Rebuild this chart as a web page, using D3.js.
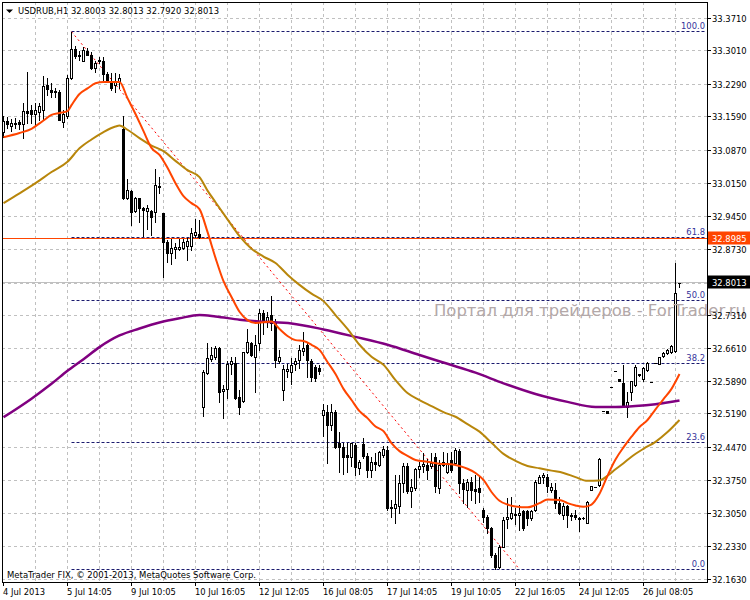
<!DOCTYPE html>
<html><head><meta charset="utf-8">
<script src="https://cdn.jsdelivr.net/npm/d3@7"></script>
<style>body{margin:0;background:#fff}svg{display:block}text{font-family:"DejaVu Sans",sans-serif}</style>
</head><body><svg id="c" width="750" height="600"></svg>
<script>
// ---------------- DATA ----------------
const symbolTitle = "USDRUB,H1";
const titleQuote = ["32.8003","32.8013","32.7920","32.8013"];

const opens = [33.126,33.150,33.139,33.146,33.147,33.143,33.171,33.174,33.164,33.170,
33.174,33.227,33.216,33.214,33.213,33.148,33.161,33.242,33.305,33.293,
33.280,33.301,33.293,33.263,33.278,33.279,33.250,33.236,33.227,33.234,
33.133,32.983,33.000,32.956,32.983,32.963,32.955,32.956,32.953,33.010,
32.951,32.890,32.866,32.875,32.874,32.877,32.881,32.881,32.904,32.906,
32.533,32.608,32.637,32.642,32.660,32.568,32.572,32.627,32.628,32.555,
32.548,32.652,32.672,32.642,32.672,32.737,32.718,32.732,32.714,32.632,
32.570,32.612,32.610,32.627,32.635,32.655,32.668,32.634,32.621,32.619,
32.517,32.524,32.495,32.524,32.456,32.447,32.431,32.427,32.452,32.403,
32.454,32.429,32.398,32.416,32.409,32.431,32.441,32.319,32.316,32.321,
32.370,32.407,32.354,32.359,32.400,32.406,32.409,32.407,32.427,32.359,
32.409,32.395,32.420,32.413,32.440,32.370,32.355,32.373,32.357,32.359,
32.312,32.298,32.273,32.215,32.190,32.233,32.292,32.294,32.301,32.301,
32.311,32.309,32.294,32.312,32.371,32.383,32.384,32.355,32.355,32.327,
32.301,32.321,32.301,32.301,32.294,32.295,32.285,32.355,32.361,32.366,
32.525,32.526,32.578,32.612,32.594,32.585,32.535,32.566,32.581,32.603,
32.594,32.614,32.587,32.628,32.627,32.644,32.650,32.653,32.655,32.8003];

const highs = [33.161,33.159,33.154,33.156,33.152,33.188,33.256,33.184,33.188,33.188,
33.247,33.242,33.231,33.220,33.217,33.174,33.249,33.342,33.312,33.301,
33.310,33.308,33.298,33.279,33.288,33.288,33.256,33.253,33.253,33.250,
33.161,33.025,33.002,32.987,32.985,32.965,32.969,32.958,33.046,33.030,
32.952,32.894,32.895,32.888,32.895,32.895,32.897,32.919,32.938,32.937,
32.614,32.672,32.664,32.665,32.664,32.581,32.632,32.642,32.642,32.570,
32.653,32.703,32.673,32.689,32.744,32.743,32.739,32.772,32.723,32.657,
32.625,32.627,32.639,32.639,32.668,32.696,32.672,32.637,32.625,32.625,
32.541,32.538,32.541,32.528,32.481,32.456,32.456,32.457,32.456,32.420,
32.467,32.434,32.426,32.434,32.440,32.449,32.449,32.334,32.388,32.388,
32.413,32.413,32.380,32.402,32.416,32.434,32.421,32.434,32.434,32.420,
32.438,32.434,32.438,32.445,32.443,32.380,32.380,32.384,32.388,32.386,
32.316,32.301,32.276,32.219,32.237,32.298,32.337,32.341,32.316,32.323,
32.312,32.312,32.312,32.377,32.388,32.391,32.390,32.370,32.370,32.341,
32.327,32.323,32.305,32.312,32.298,32.297,32.332,32.363,32.361,32.424,
32.525,32.526,32.578,32.612,32.595,32.625,32.566,32.591,32.625,32.605,
32.621,32.630,32.587,32.628,32.642,32.653,32.658,32.668,32.844,32.8013];

const lows = [33.115,33.134,33.128,33.134,33.133,33.113,33.145,33.145,33.141,33.152,
33.152,33.206,33.202,33.202,33.151,33.138,33.156,33.240,33.285,33.281,
33.278,33.292,33.262,33.256,33.274,33.238,33.234,33.217,33.213,33.220,
32.982,32.981,32.926,32.954,32.933,32.903,32.917,32.904,32.933,32.994,
32.815,32.847,32.842,32.854,32.872,32.874,32.850,32.872,32.901,32.897,
32.515,32.606,32.632,32.637,32.545,32.510,32.553,32.606,32.552,32.519,
32.545,32.651,32.644,32.566,32.657,32.692,32.707,32.700,32.620,32.628,
32.549,32.599,32.584,32.614,32.617,32.646,32.599,32.589,32.589,32.606,
32.472,32.413,32.485,32.445,32.393,32.390,32.395,32.406,32.388,32.390,
32.424,32.384,32.384,32.398,32.406,32.427,32.312,32.298,32.284,32.305,
32.352,32.349,32.319,32.355,32.384,32.395,32.380,32.402,32.352,32.348,
32.406,32.391,32.395,32.409,32.348,32.327,32.319,32.334,32.327,32.330,
32.287,32.262,32.212,32.1845,32.187,32.232,32.273,32.292,32.282,32.269,
32.269,32.280,32.291,32.311,32.370,32.370,32.352,32.352,32.316,32.304,
32.292,32.275,32.291,32.292,32.266,32.293,32.284,32.355,32.361,32.364,
32.525,32.522,32.578,32.612,32.590,32.534,32.513,32.549,32.579,32.601,
32.589,32.612,32.587,32.628,32.627,32.642,32.648,32.650,32.653,32.7920];

const closes = [33.150,33.143,33.146,33.143,33.143,33.171,33.167,33.164,33.174,33.183,
33.225,33.218,33.213,33.213,33.152,33.164,33.243,33.305,33.290,33.290,
33.303,33.293,33.263,33.274,33.281,33.250,33.236,33.220,33.234,33.243,
32.983,33.001,32.953,32.985,32.962,32.958,32.962,32.944,33.012,33.008,
32.889,32.866,32.876,32.878,32.879,32.890,32.892,32.908,32.910,32.899,
32.610,32.639,32.645,32.660,32.566,32.572,32.627,32.632,32.553,32.535,
32.652,32.674,32.645,32.668,32.736,32.718,32.728,32.714,32.635,32.642,
32.615,32.615,32.625,32.634,32.657,32.660,32.635,32.598,32.596,32.612,
32.528,32.495,32.523,32.447,32.447,32.427,32.427,32.456,32.405,32.416,
32.429,32.398,32.416,32.411,32.438,32.443,32.316,32.316,32.325,32.370,
32.407,32.354,32.361,32.400,32.407,32.411,32.398,32.413,32.363,32.409,
32.416,32.414,32.398,32.441,32.371,32.357,32.373,32.355,32.353,32.352,
32.298,32.273,32.215,32.190,32.233,32.291,32.298,32.305,32.304,32.305,
32.273,32.294,32.311,32.373,32.383,32.388,32.364,32.361,32.327,32.305,
32.321,32.301,32.299,32.298,32.293,32.294,32.329,32.363,32.361,32.421,
32.525,32.522,32.578,32.612,32.591,32.535,32.545,32.589,32.621,32.605,
32.617,32.628,32.587,32.628,32.642,32.651,32.657,32.666,32.780,32.8013];

// moving averages at these bar positions
const maFastBars = [0,4,7,10,12,14,16,17,19,21,23,25,29,31,33,35,37,39,41,43,45,47,49,51,53,55,57,59,61,63,67,69,71,73,75,77,79,81,83,85,87,89,91,93,95,97,99,101,103,106,109,112,114,116,118,120,122,124,126,128,131,134,136,139,141,143,145,147,149,151,153,155,157,159,161,163,165,167,169];
const maFast = [33.115,33.124,33.133,33.151,33.163,33.167,33.171,33.184,33.208,33.220,33.231,33.234,33.234,33.199,33.165,33.128,33.092,33.077,33.049,33.016,32.988,32.973,32.960,32.911,32.855,32.805,32.771,32.739,32.721,32.715,32.718,32.702,32.687,32.678,32.676,32.668,32.657,32.631,32.605,32.573,32.549,32.525,32.510,32.492,32.482,32.456,32.439,32.429,32.420,32.416,32.412,32.411,32.407,32.401,32.392,32.377,32.351,32.332,32.324,32.320,32.318,32.327,32.335,32.334,32.327,32.322,32.319,32.324,32.347,32.386,32.421,32.447,32.470,32.491,32.506,32.529,32.551,32.573,32.605];

const maMidBars = [0,4,8,12,16,19,22,25,28,29,31,34,37,40,43,46,49,51,53,56,59,62,65,68,71,74,77,80,83,86,89,92,95,98,101,104,107,110,113,116,119,122,125,128,131,134,137,140,143,146,149,151,153,155,157,160,163,166,169];
const maMid = [32.973,32.994,33.016,33.040,33.062,33.091,33.110,33.126,33.138,33.140,33.131,33.113,33.097,33.085,33.064,33.044,33.029,33.000,32.975,32.938,32.902,32.875,32.858,32.844,32.819,32.797,32.778,32.762,32.732,32.702,32.668,32.642,32.625,32.592,32.564,32.549,32.536,32.523,32.513,32.497,32.481,32.457,32.433,32.418,32.407,32.402,32.397,32.392,32.383,32.375,32.376,32.386,32.400,32.413,32.427,32.444,32.459,32.480,32.506];

const maSlowBars = [0,7,12,16,20,24,29,34,39,44,49,53,59,64,72,80,88,96,104,111,118,125,133,141,148,153,158,163,169];
const maSlow = [32.512,32.552,32.584,32.612,32.637,32.663,32.688,32.703,32.716,32.725,32.732,32.729,32.722,32.718,32.714,32.701,32.685,32.668,32.646,32.627,32.608,32.585,32.562,32.545,32.534,32.534,32.536,32.540,32.548];

// Fibonacci retracement
const fibStartBar = 17, fibEndBar = 129;
const fibHigh = 33.3421, fibLow = 32.1845;
const fibLevels = [0, 23.6, 38.2, 50.0, 61.8, 100.0];

// horizontal lines
const redLevel = 32.8985;
const bidPrice = 32.8013;

// axes
const priceTicks = [33.3710,33.3010,33.2290,33.1590,33.0870,33.0150,32.9450,32.8730,32.8010,32.7310,32.6610,32.5890,32.5190,32.4470,32.3750,32.3050,32.2330,32.1630];
const timeTickBars = [0,16,32,48,64,80,96,112,128,144,160];
const timeTickLabels = ["4 Jul 2013","5 Jul 14:05","9 Jul 10:05","10 Jul 16:05","12 Jul 12:05","16 Jul 08:05","17 Jul 14:05","19 Jul 10:05","22 Jul 16:05","24 Jul 12:05","26 Jul 08:05"];
const copyrightText = "MetaTrader FIX, \u00a9 2001-2013, MetaQuotes Software Corp.";
const watermarkText = "Портал для трейдеров - ForTrader.ru";

// ---------------- DRAW ----------------
const W = 750, H = 600;
const P = {l:2, t:2, r:707, b:582};
const FS = 8.4;
const x = d3.scaleLinear().domain([0,169]).range([3.5,679.5]);
const y = d3.scaleLinear().domain([32.1630,33.3710]).range([579.3,18.3]);
const sy = v => Math.round(y(v)-0.5)+0.5;

const svg = d3.select('#c');
svg.append('rect').attr('width',W).attr('height',H).attr('fill','#fff');
svg.append('defs').append('clipPath').attr('id','clip')
  .append('rect').attr('x',P.l+1).attr('y',P.t+1).attr('width',P.r-P.l-1).attr('height',P.b-P.t-1);

// grid
const grid = svg.append('g').attr('stroke','#c0c0c0').attr('stroke-width',1).attr('stroke-dasharray','3,3');
priceTicks.forEach(v=>{
  grid.append('line').attr('x1',P.l).attr('x2',P.r).attr('y1',sy(v)).attr('y2',sy(v));
});
d3.range(8,170,8).forEach(b=>{
  grid.append('line').attr('x1',x(b)).attr('x2',x(b)).attr('y1',P.t).attr('y2',P.b);
});

const plot = svg.append('g').attr('clip-path','url(#clip)');

// bid line
plot.append('line').attr('x1',P.l).attr('x2',P.r).attr('y1',sy(bidPrice)).attr('y2',sy(bidPrice))
  .attr('stroke','#c0c0c0').attr('stroke-width',1);

// fib levels
const fibG = plot.append('g');
fibLevels.forEach(l=>{
  const price = fibLow + (fibHigh-fibLow)*l/100;
  const yy = sy(price);
  fibG.append('line').attr('x1',x(fibStartBar)).attr('x2',P.r-2).attr('y1',yy).attr('y2',yy)
    .attr('stroke','#1a1a6e').attr('stroke-width',1).attr('stroke-dasharray','3,2');
  fibG.append('text').attr('x',705).attr('y',yy-3).attr('text-anchor','end')
    .attr('font-size',FS).attr('fill','#33339a').text(l.toFixed(1));
});
// red horizontal level (drawn above the fib line)
const ry = Math.round(y(redLevel))+0.5;
plot.append('line').attr('x1',P.l).attr('x2',P.r).attr('y1',ry).attr('y2',ry)
  .attr('stroke','#ff4500').attr('stroke-width',1);
// fib trend line
plot.append('line').attr('x1',x(fibStartBar)).attr('y1',y(fibHigh)).attr('x2',x(fibEndBar)).attr('y2',y(fibLow))
  .attr('stroke','#ff0000').attr('stroke-width',1).attr('stroke-dasharray','2,3');

// candles
const cg = plot.append('g');
opens.forEach((o,i)=>{
  const c = closes[i], h = highs[i], l = lows[i];
  const cx = x(i);
  const yh = Math.round(y(h)), yl = Math.round(y(l));
  if (yl > yh) cg.append('line').attr('x1',cx).attr('x2',cx).attr('y1',yh).attr('y2',yl+1)
    .attr('stroke','#000').attr('stroke-width',1);
  const top = Math.round(y(Math.max(o,c))), bot = Math.round(y(Math.min(o,c)));
  if (bot - top < 1) {
    cg.append('line').attr('x1',cx-1.5).attr('x2',cx+1.5).attr('y1',top+0.5).attr('y2',top+0.5)
      .attr('stroke','#000').attr('stroke-width',1);
  } else {
    cg.append('rect').attr('x',cx-1).attr('y',top+0.5).attr('width',2).attr('height',bot-top)
      .attr('fill', c > o ? '#fff' : '#000').attr('stroke','#000').attr('stroke-width',1);
  }
});

// moving averages
const line = d3.line().x(d=>x(d[0])).y(d=>y(d[1])).curve(d3.curveMonotoneX);
const mas = [
  {bars:maSlowBars, vals:maSlow, color:'#800080', w:2.5},
  {bars:maMidBars, vals:maMid, color:'#b8860b', w:2},
  {bars:maFastBars, vals:maFast, color:'#ff4500', w:2}
];
mas.forEach(m=>{
  plot.append('path').datum(m.bars.map((b,i)=>[b,m.vals[i]])).attr('d',line)
    .attr('fill','none').attr('stroke',m.color).attr('stroke-width',m.w).attr('stroke-linejoin','round');
});

// frame
svg.append('rect').attr('x',P.l+0.5).attr('y',P.t+0.5).attr('width',P.r-P.l).attr('height',P.b-P.t)
  .attr('fill','none').attr('stroke','#000').attr('stroke-width',1);

// watermark
svg.append('text').attr('x',434).attr('y',316).attr('font-size',16).attr('fill','#b3a8a8')
  .attr('textLength',312).attr('lengthAdjust','spacingAndGlyphs').text(watermarkText);

// price axis
const ax = svg.append('g');
priceTicks.forEach(v=>{
  const yy = sy(v);
  ax.append('line').attr('x1',P.r).attr('x2',P.r+4).attr('y1',yy).attr('y2',yy).attr('stroke','#000');
  ax.append('text').attr('x',712).attr('y',yy+3).attr('font-size',FS).attr('fill','#000').text(v.toFixed(4));
});
// level boxes
[[redLevel,'#ff4500',ry],[bidPrice,'#000',sy(bidPrice)]].forEach(([v,col,yy])=>{
  ax.append('rect').attr('x',708).attr('y',yy-7).attr('width',42).attr('height',13).attr('fill',col);
  ax.append('text').attr('x',712).attr('y',yy+3).attr('font-size',FS).attr('fill','#fff').text(v.toFixed(4));
});

// time axis
timeTickBars.forEach((b,i)=>{
  ax.append('line').attr('x1',x(b)).attr('x2',x(b)).attr('y1',P.b).attr('y2',P.b+4).attr('stroke','#000');
  ax.append('text').attr('x',x(b)-0.5).attr('y',595).attr('font-size',FS).attr('fill','#000').text(timeTickLabels[i]);
});

// header
svg.append('path').attr('d','M6,9.5 L13,9.5 L9.5,13 Z').attr('fill','#000');
svg.append('text').attr('x',18).attr('y',14).attr('font-size',FS).attr('fill','#000')
  .attr('textLength',201).attr('lengthAdjust','spacing')
  .text(symbolTitle + "  " + titleQuote.join(" "));

// copyright
svg.append('text').attr('x',7).attr('y',578).attr('font-size',FS).attr('fill','#000')
  .attr('textLength',249).attr('lengthAdjust','spacingAndGlyphs').text(copyrightText);
</script>
</body></html>
